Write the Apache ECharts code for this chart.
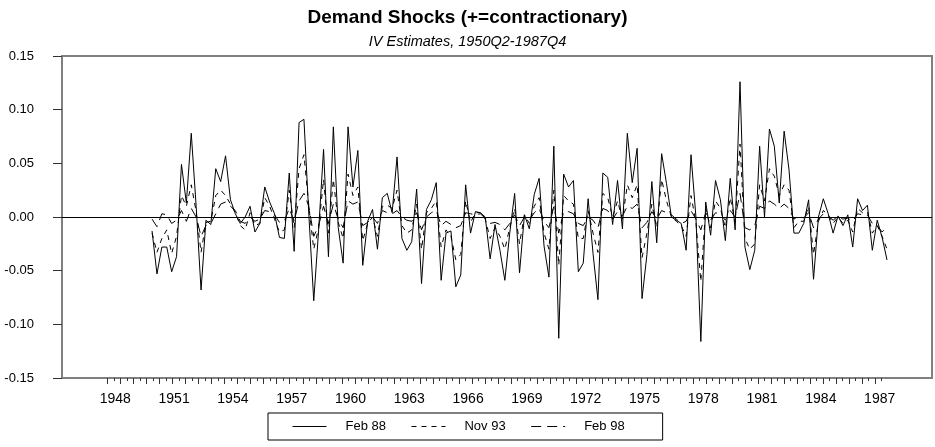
<!DOCTYPE html>
<html><head><meta charset="utf-8">
<script src="https://cdn.jsdelivr.net/npm/echarts@6/dist/echarts.min.js"></script>
<style>html,body{margin:0;padding:0;background:#fff}#c{width:935px;height:447px}</style>
</head><body><div id="c"></div>
<script>
// Quarterly sample 1950Q2 - 1987Q4
const startYear = 1950, startQuarter = 2, nQuarters = 151;
const quarters = [];
for (let k = 0; k < nQuarters; k++) {
  const q0 = startQuarter - 1 + k;
  quarters.push((startYear + Math.floor(q0 / 4)) + 'Q' + (q0 % 4 + 1));
}
const yearLabels = ['1948','1951','1954','1957','1960','1963','1966','1969','1972','1975','1978','1981','1984','1987'];
const yTickLabels = ['-0.15','-0.10','-0.05','0.00','0.05','0.10','0.15'];

const feb88 = [-0.013,-0.053,-0.028,-0.028,-0.051,-0.037,0.049,0.013,0.078,0.010,
-0.068,-0.003,-0.007,0.045,0.033,0.057,0.016,0.003,-0.006,0.000,
0.010,-0.014,-0.006,0.028,0.014,0.003,-0.019,-0.020,0.041,-0.032,
0.088,0.091,0.002,-0.078,-0.012,0.063,-0.037,0.084,-0.010,-0.043,
0.084,0.028,0.062,-0.045,-0.004,0.007,-0.030,0.018,0.022,0.004,
0.056,-0.020,-0.031,-0.023,0.026,-0.062,0.007,0.016,0.032,-0.059,
-0.015,-0.013,-0.065,-0.054,0.030,-0.015,0.005,0.004,0.000,-0.039,
-0.007,-0.031,-0.059,-0.015,0.022,-0.052,0.002,-0.011,0.021,0.036,
-0.027,-0.056,0.066,-0.113,0.040,0.028,0.034,-0.051,-0.043,0.017,
-0.034,-0.077,0.041,0.037,-0.007,0.034,-0.011,0.078,0.032,0.064,
-0.076,-0.035,0.033,-0.024,0.059,0.031,0.000,-0.003,-0.006,-0.031,
0.058,0.000,-0.116,0.014,-0.017,0.034,0.016,-0.022,0.036,-0.012,
0.126,-0.028,-0.049,-0.031,0.066,0.000,0.082,0.066,0.013,0.080,
0.044,-0.015,-0.015,-0.006,0.016,-0.058,0.000,0.017,0.003,-0.015,
0.001,-0.008,0.002,-0.028,0.017,0.006,0.011,-0.031,-0.003,-0.019,
-0.040];

const nov93 = [-0.015,-0.033,-0.020,-0.012,-0.034,-0.018,0.020,0.010,0.030,0.005,
-0.033,-0.005,-0.004,0.020,0.025,0.020,0.012,0.004,-0.008,-0.012,
0.004,-0.008,-0.006,0.018,0.010,-0.002,-0.014,-0.012,0.025,-0.010,
0.045,0.058,0.010,-0.030,-0.010,0.035,-0.015,0.035,-0.005,-0.020,
0.040,0.020,0.028,-0.022,-0.006,0.000,-0.018,0.010,0.011,0.008,
0.025,-0.008,-0.015,-0.012,0.012,-0.030,0.004,0.008,0.015,-0.028,
-0.012,-0.018,-0.040,-0.035,0.015,-0.005,0.004,0.004,-0.002,-0.020,
-0.010,-0.018,-0.030,-0.010,0.008,-0.025,0.002,-0.006,0.010,0.018,
-0.015,-0.030,0.025,-0.045,0.020,0.015,0.012,-0.020,-0.020,0.006,
-0.015,-0.033,0.022,0.018,0.000,0.015,-0.002,0.030,0.018,0.030,
-0.038,-0.015,0.012,-0.010,0.035,0.015,0.000,-0.004,-0.008,-0.018,
0.020,-0.005,-0.060,0.008,-0.010,0.015,0.008,-0.010,0.018,-0.005,
0.068,-0.020,-0.030,-0.025,0.030,0.015,0.045,0.038,0.020,0.030,
0.025,-0.010,-0.004,-0.004,0.010,-0.035,-0.004,0.006,0.002,-0.006,
0.000,-0.006,-0.003,-0.014,0.008,0.004,0.005,-0.015,-0.008,-0.018,
-0.030];

const feb98 = [-0.002,-0.009,0.003,0.002,-0.006,-0.003,0.006,-0.004,0.008,0.000,
-0.018,-0.008,-0.006,0.003,0.012,0.014,0.010,0.006,-0.004,-0.006,
0.000,-0.004,-0.002,0.006,0.005,0.002,-0.005,-0.004,0.008,-0.004,
0.015,0.022,0.010,-0.018,-0.008,0.010,-0.006,0.012,-0.002,-0.010,
0.015,0.012,0.014,-0.008,-0.005,0.000,-0.006,0.006,0.004,0.003,
0.006,0.000,-0.003,-0.004,0.004,-0.012,0.000,0.004,0.006,-0.008,
-0.004,-0.007,-0.010,-0.008,0.004,0.003,0.002,0.003,-0.001,-0.006,
-0.005,-0.007,-0.012,-0.006,0.002,-0.008,0.000,-0.003,0.004,0.008,
-0.004,-0.010,0.010,-0.015,0.005,0.005,0.003,-0.006,-0.008,0.000,
-0.003,-0.010,0.008,0.006,-0.002,0.005,0.001,0.010,0.008,0.012,
-0.010,-0.005,0.005,-0.002,0.006,0.004,0.002,-0.002,-0.006,-0.004,
0.006,-0.002,-0.012,0.004,-0.003,0.004,0.003,-0.003,0.006,0.000,
0.022,-0.010,-0.012,-0.008,0.010,0.008,0.015,0.012,0.008,0.012,
0.008,-0.002,0.001,-0.001,0.004,-0.010,-0.002,0.003,0.001,-0.003,
0.001,-0.002,-0.001,-0.004,0.003,0.002,0.002,-0.006,-0.008,-0.014,
-0.009];

// position of a quarter on the year axis (mid-quarter)
function qPos(label) {
  const y = +label.slice(0, 4), q = +label.slice(5);
  return y + (q - 1) / 4 + 0.125;
}
function pairs(vals) { return vals.map((v, i) => [qPos(quarters[i]), v]); }

const labelPos = yearLabels.map(s => +s + 0.5);
const tickShort = [], tickLong = [];
for (let k = 0; k < 120; k++) {
  const t = 1948.11 + k * 0.3318;
  if (k % 2 === 0) tickLong.push(t); else tickShort.push(t);
}
const xMin = 1945.78, xMax = 1990.17;
const font = 'Liberation Sans, Arial, sans-serif';

const chart = echarts.init(document.getElementById('c'), null, {renderer: 'canvas'});
chart.setOption({
  animation: false,
  backgroundColor: '#fff',
  title: [
    {text: 'Demand Shocks (+=contractionary)', left: 'center', top: 3,
     textStyle: {fontFamily: font, fontWeight: 'bold', fontSize: 19, color: '#000'}},
    {text: 'IV Estimates, 1950Q2-1987Q4', left: 'center', top: 29,
     textStyle: {fontFamily: font, fontStyle: 'italic', fontWeight: 'normal', fontSize: 14.5, color: '#000'}}
  ],
  legend: {
    data: ['Feb 88', 'Nov 93', 'Feb 98'],
    left: 268, top: 413,
    borderColor: '#000', borderWidth: 1, padding: [7, 38, 7, 24],
    itemWidth: 34, itemHeight: 2, itemGap: 25,
    itemStyle: {opacity: 0, borderWidth: 0},
    lineStyle: {width: 1},
    textStyle: {fontFamily: font, fontSize: 13, color: '#000', padding: [0, 0, 0, 14]}
  },
  grid: {left: 62, right: 3, top: 56, bottom: 69, show: true, borderColor: '#808080', borderWidth: 2},
  xAxis: [
    {type: 'value', min: xMin, max: xMax, position: 'bottom',
     axisLine: {show: false, onZero: false}, splitLine: {show: false},
     axisTick: {show: true, customValues: tickShort, length: 3, lineStyle: {color: '#333'}},
     axisLabel: {customValues: labelPos, margin: 14, fontFamily: font, fontSize: 14, color: '#000',
       formatter: v => yearLabels[labelPos.findIndex(p => Math.abs(p - v) < 1e-6)] || ''}},
    {type: 'value', min: xMin, max: xMax, position: 'bottom',
     axisLine: {show: false, onZero: false}, splitLine: {show: false}, axisLabel: {show: false},
     axisTick: {show: true, customValues: tickLong, length: 6, lineStyle: {color: '#333'}}}
  ],
  yAxis: {
    type: 'value', min: -0.15, max: 0.15, interval: 0.05,
    axisLine: {show: false, onZero: false}, splitLine: {show: false},
    axisTick: {show: true, length: 9, lineStyle: {color: '#333'}},
    axisLabel: {margin: 28, fontFamily: font, fontSize: 13, color: '#000',
      formatter: v => yTickLabels[Math.round((v + 0.15) / 0.05)]}
  },
  series: [
    {name: 'Feb 88', type: 'line', data: pairs(feb88), symbol: 'none',
     lineStyle: {color: '#000', width: 1, type: 'solid'}, itemStyle: {color: '#000'},
     markLine: {silent: true, symbol: ['none', 'none'], label: {show: false},
       lineStyle: {color: '#000', width: 1, type: 'solid'}, data: [{yAxis: 0}]}},
    {name: 'Nov 93', type: 'line', data: pairs(nov93), symbol: 'none',
     lineStyle: {color: '#000', width: 1, type: [5, 5]}, itemStyle: {color: '#000'}},
    {name: 'Feb 98', type: 'line', data: pairs(feb98), symbol: 'none',
     lineStyle: {color: '#000', width: 1, type: [10, 6]}, itemStyle: {color: '#000'}}
  ]
});
</script></body></html>
